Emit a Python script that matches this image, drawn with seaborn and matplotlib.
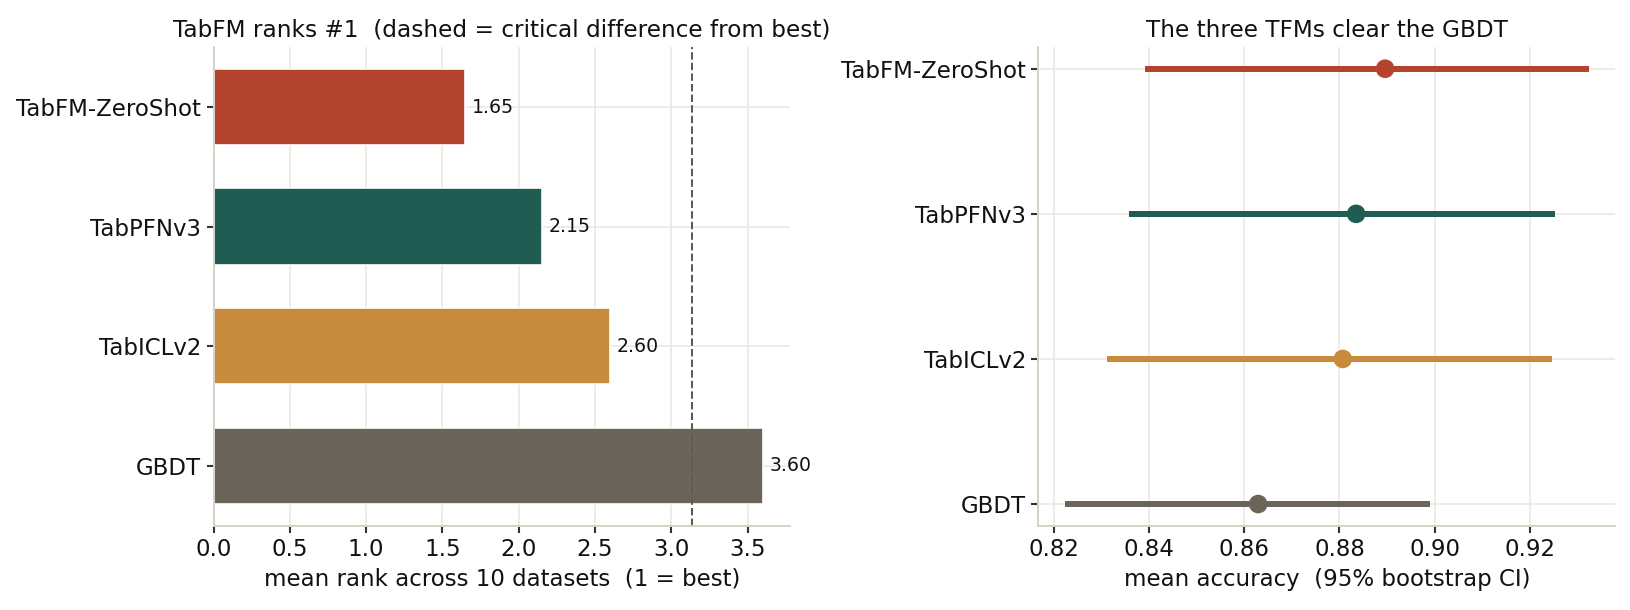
import numpy as np
import pandas as pd
import matplotlib
matplotlib.use("Agg")
import matplotlib.pyplot as plt
import seaborn as sns

# datos
modelos = ["TabFM-ZeroShot", "TabPFNv3", "TabICLv2", "GBDT"]
rango_medio = [1.65, 2.15, 2.60, 3.60]
dif_critica = 1.483  # CD de Nemenyi desde el mejor
acc_media = [0.8896, 0.8835, 0.8807, 0.8629]
ic_bajo = [0.8390, 0.8358, 0.8311, 0.8222]
ic_alto = [0.9325, 0.9254, 0.9246, 0.8990]
colores = ["#B44330", "#1F5C54", "#C88A3C", "#6B6459"]

sns.set_theme(style="whitegrid")
plt.rcParams["font.family"] = ["DejaVu Sans"]
plt.rcParams.update({
    "axes.edgecolor": "#D6D2C5",
    "grid.color": "#ECE9E0",
    "grid.linewidth": 1.0,
    "text.color": "#111111",
    "xtick.bottom": True,
    "ytick.left": True,
    "xtick.color": "#333333",
    "ytick.color": "#333333",
    "xtick.labelcolor": "#111111",
    "ytick.labelcolor": "#111111",
    "axes.labelcolor": "#111111",
    "xtick.major.size": 4,
    "ytick.major.size": 4,
})

df = pd.DataFrame({"modelo": modelos, "rango": rango_medio,
                   "acc": acc_media, "lo": ic_bajo, "hi": ic_alto})

fig, (ax1, ax2) = plt.subplots(1, 2, figsize=(1630 / 120, 610 / 120), dpi=120)

# panel izquierdo: rango medio
ax1.barh(df["modelo"], df["rango"], height=0.64, color=colores)
ax1.invert_yaxis()
ax1.bar_label(ax1.containers[0], labels=[f"{v:.2f}" for v in rango_medio],
              padding=4, fontsize=11.3, color="#111111")
ax1.axvline(rango_medio[0] + dif_critica, color="#5F5A52", ls="--", lw=1.2)
ax1.set_xlabel("mean rank across 10 datasets  (1 = best)", fontsize=13.7)
ax1.set_ylabel("")
ax1.set_title("TabFM ranks #1  (dashed = critical difference from best)", fontsize=13.9)
ax1.tick_params(labelsize=13.7)
ax1.set_axisbelow(True)

# panel derecho: exactitud media con IC
for i, fila in df.iterrows():
    ax2.hlines(fila["modelo"], fila["lo"], fila["hi"], color=colores[i], lw=3.6, zorder=2)
sns.scatterplot(data=df, x="acc", y="modelo", hue="modelo", palette=colores,
                s=125, edgecolor="none", legend=False, zorder=3, ax=ax2)
if not ax2.yaxis_inverted():
    ax2.invert_yaxis()
ax2.set_xlabel("mean accuracy  (95% bootstrap CI)", fontsize=13.7)
ax2.set_ylabel("")
ax2.set_title("The three TFMs clear the GBDT", fontsize=13.9)
ax2.tick_params(labelsize=13.7)
ax2.set_xticks([0.82, 0.84, 0.86, 0.88, 0.90, 0.92])
ax2.set_xticklabels([f"{t:.2f}" for t in [0.82, 0.84, 0.86, 0.88, 0.90, 0.92]])

for ax in (ax1, ax2):
    sns.despine(ax=ax)
    for s in ("left", "bottom"):
        ax.spines[s].set_color("#D6D2C5")
        ax.spines[s].set_linewidth(1.2)

fig.subplots_adjust(left=0.131, right=0.991, top=0.923, bottom=0.138, wspace=0.43)
fig.savefig("out.png", dpi=120)
